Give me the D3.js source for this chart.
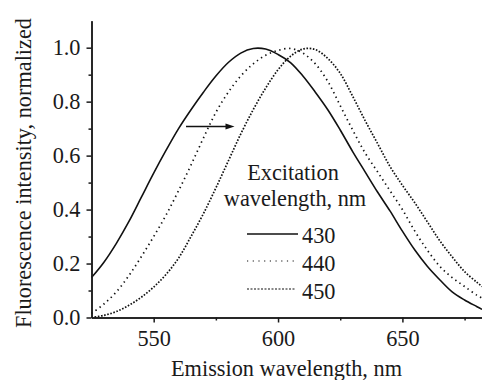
<!DOCTYPE html>
<html>
<head>
<meta charset="utf-8">
<script src="https://cdn.jsdelivr.net/npm/d3@7"></script>
<style>
  body { margin: 0; background: #fff; }
  .axis path, .axis line { stroke: #1a1a1a; stroke-width: 1.5; }
</style>
</head>
<body>
<svg id="chart" width="482" height="380"></svg>
<script>
// emission wavelength, nm
let wavelengths = [525, 530, 535, 540, 545, 550, 555, 560, 565, 570, 575, 580, 585, 590, 595, 600,
                   605, 610, 615, 620, 625, 630, 635, 640, 645, 650, 655, 660, 665, 670, 675, 680, 682];
// normalized intensity for each excitation wavelength
let ex430 = [0.148, 0.205, 0.275, 0.355, 0.445, 0.535, 0.62, 0.70, 0.77, 0.835, 0.895, 0.945, 0.98, 0.997, 0.995, 0.975,
             0.945, 0.895, 0.835, 0.77, 0.695, 0.615, 0.54, 0.465, 0.395, 0.32, 0.25, 0.19, 0.14, 0.095, 0.065, 0.04, 0.03];
let ex440 = [0.015, 0.05, 0.095, 0.155, 0.225, 0.30, 0.38, 0.47, 0.565, 0.665, 0.76, 0.835, 0.895, 0.94, 0.972, 0.99,
             0.997, 0.98, 0.94, 0.875, 0.785, 0.695, 0.61, 0.54, 0.47, 0.40, 0.32, 0.25, 0.19, 0.148, 0.115, 0.082, 0.072];
let ex450 = [0.0, 0.008, 0.022, 0.045, 0.075, 0.113, 0.16, 0.22, 0.30, 0.385, 0.48, 0.58, 0.68, 0.77, 0.85, 0.918,
             0.968, 0.995, 0.993, 0.96, 0.905, 0.82, 0.73, 0.645, 0.56, 0.49, 0.425, 0.355, 0.285, 0.225, 0.17, 0.13, 0.115];
let seriesNames = ["430", "440", "450"];
let seriesValues = [ex430, ex440, ex450];
let dashes = [null, "1.4,3.6", "1.6,1.6"];

let xMajor = [550, 600, 650];
let xMinor = [575, 625, 675];
let yMajor = [0, 0.2, 0.4, 0.6, 0.8, 1.0];
let yMinor = [0.1, 0.3, 0.5, 0.7, 0.9];
let arrowFrom = [563, 0.708], arrowTo = [582.5, 0.708];

let serif = "'Liberation Serif', 'Times New Roman', 'DejaVu Serif', Times, serif";
let svg = d3.select("#chart");
let plotLeft = 91.5, plotRight = 482, plotTop = 20.7, plotBottom = 317.5;

let xScale = d3.scaleLinear().domain([525, 682]).range([plotLeft, plotRight]);
let yScale = d3.scaleLinear().domain([0, 1.1]).range([plotBottom, plotTop]);

// curves
let line = d3.line()
    .x((d, i) => xScale(wavelengths[i]))
    .y(d => yScale(d))
    .curve(d3.curveCatmullRom.alpha(0.5));

svg.append("g").selectAll("path")
    .data(seriesValues)
    .enter().append("path")
    .attr("d", d => line(d))
    .attr("fill", "none")
    .attr("stroke", "#111")
    .attr("stroke-width", (d, i) => i == 0 ? 1.6 : 1.7)
    .attr("stroke-dasharray", (d, i) => dashes[i]);

// axes
svg.append("g").attr("class", "axis")
    .attr("transform", `translate(0,${plotBottom})`)
    .call(d3.axisBottom(xScale).tickValues(xMajor).tickSize(5).tickSizeOuter(0).tickPadding(8).tickFormat(d3.format("d")));
svg.append("g").attr("class", "axis")
    .attr("transform", `translate(0,${plotBottom})`)
    .call(d3.axisBottom(xScale).tickValues(xMinor).tickSize(3).tickSizeOuter(0).tickFormat(""));

svg.append("g").attr("class", "axis")
    .attr("transform", `translate(${plotLeft},0)`)
    .call(d3.axisLeft(yScale).tickValues(yMajor).tickSize(5).tickSizeOuter(0).tickPadding(6).tickFormat(d3.format(".1f")));
svg.append("g").attr("class", "axis")
    .attr("transform", `translate(${plotLeft},0)`)
    .call(d3.axisLeft(yScale).tickValues(yMinor).tickSize(3).tickSizeOuter(0).tickFormat(""));

svg.selectAll(".axis").attr("font-family", serif).attr("font-size", 22);

// axis labels
svg.append("text")
    .attr("x", 286.5).attr("y", 376)
    .attr("text-anchor", "middle")
    .text("Emission wavelength, nm");

svg.append("text")
    .attr("transform", `translate(31,173) rotate(-90)`)
    .attr("text-anchor", "middle")
    .text("Fluorescence intensity, normalized");

// arrow
svg.append("line")
    .attr("x1", xScale(arrowFrom[0])).attr("y1", yScale(arrowFrom[1]))
    .attr("x2", xScale(arrowTo[0]) - 6).attr("y2", yScale(arrowTo[1]))
    .attr("stroke", "#111").attr("stroke-width", 1.5);
let ax = xScale(arrowTo[0]), ay = yScale(arrowTo[1]);
svg.append("path")
    .attr("d", `M${ax},${ay} L${ax - 9},${ay - 3} L${ax - 9},${ay + 3} Z`)
    .attr("fill", "#111");

// legend
let legend = svg.append("g");
legend.append("text").attr("x", 293).attr("y", 180).attr("text-anchor", "middle").text("Excitation");
legend.append("text").attr("x", 295).attr("y", 206).attr("text-anchor", "middle").text("wavelength, nm");

let rows = legend.selectAll(".row")
    .data(seriesNames)
    .enter().append("g")
    .attr("class", "row")
    .attr("transform", (d, i) => `translate(0,${243 + i * 28})`);
rows.append("line")
    .attr("x1", 247).attr("x2", (d, i) => i == 0 ? 298 : 296)
    .attr("y1", (d, i) => i == 0 ? -9 : -10).attr("y2", (d, i) => i == 0 ? -9 : -10)
    .attr("stroke", "#111")
    .attr("stroke-width", (d, i) => i == 0 ? 1.6 : 1.2)
    .attr("stroke-dasharray", (d, i) => i == 0 ? null : (i == 1 ? "1.2,4.5" : "2,1.5"));
rows.append("text")
    .attr("x", 302).attr("y", 0)
    .text(d => d);

svg.selectAll("text")
    .style("font-family", serif)
    .style("font-size", "22.3px")
    .style("fill", "#1a1a1a");
</script>
</body>
</html>
